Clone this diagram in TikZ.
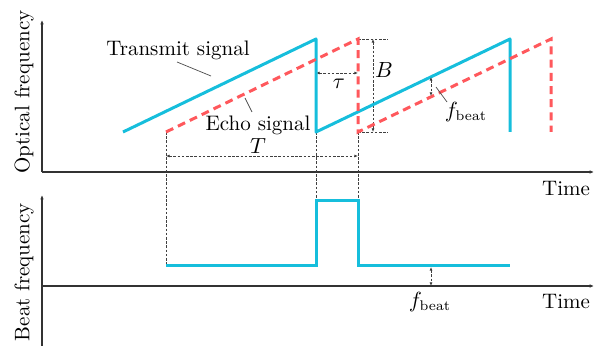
\documentclass[tikz,border=0pt]{standalone}
\usetikzlibrary{arrows.meta}
\definecolor{txc}{RGB}{22,190,220}
\definecolor{rxc}{RGB}{255,88,92}
\begin{document}
\begin{tikzpicture}[x=0.5pt,y=-0.5pt,
  every node/.style={font=\fontsize{10.5}{12}\selectfont, inner sep=0pt},
  axis/.style={line width=0.55pt, draw=black!80, -{Latex[length=2.2pt,width=1.8pt]}},
  tx/.style={line width=1.5pt, draw=txc, line join=round},
  rx/.style={line width=1.5pt, draw=rxc, dash pattern=on 4pt off 2.6pt},
  guide/.style={line width=0.35pt, draw=black!75, dash pattern=on 1.3pt off 0.8pt},
  dim/.style={guide, {Latex[length=1.8pt,width=1.5pt]}-{Latex[length=1.8pt,width=1.5pt]}},
  leader/.style={line width=0.35pt, draw=black!70}]
\useasboundingbox (0,0) rectangle (598,346);
% axes
\coordinate (o1) at (42,172); \coordinate (y1) at (42,20); \coordinate (x1) at (594,172);
\coordinate (o2) at (42,346); \coordinate (y2) at (42,195); \coordinate (x2) at (594,286);
\coordinate (o2h) at (42,286);
\draw[axis] (o1) -- (y1);
\draw[axis] (o1) -- (x1);
\draw[axis] (o2) -- (y2);
\draw[axis] (o2h) -- (x2);
\node[rotate=90] (ylab1) at (24,92) {Optical frequency};
\node[rotate=90] (ylab2) at (24,272) {Beat frequency};
\node (xlab1) at (566,189) {Time};
\node (xlab2) at (566,302) {Time};
% transmit
\coordinate (t0) at (123,132); \coordinate (t1) at (316,39); \coordinate (t2) at (316,132);
\coordinate (t3) at (510,39); \coordinate (t4) at (510,132);
% echo
\coordinate (r0) at (166,132); \coordinate (r1) at (358,39); \coordinate (r2) at (358,132);
\coordinate (r3) at (551,39); \coordinate (r4) at (551,132);
% guides
\coordinate (g0) at (166,266); \coordinate (g1) at (316,201); \coordinate (g2) at (358,201);
\draw[guide] (r0) -- (g0);
\draw[guide] (t2) -- (g1);
\draw[guide] (r2) -- (g2);
\coordinate (bt) at (388,39); \coordinate (bb) at (388,132);
\draw[guide] (r1) -- (bt);
\draw[guide] (r2) -- (bb);
\coordinate (ba) at (373,39); \coordinate (bz) at (373,132);
\draw[dim] (ba) -- (bz);
\node (B) at (384,70) {$B$};
\coordinate (ta) at (316,73); \coordinate (tb) at (358,73);
\draw[dim] (ta) -- (tb);
\node (tau) at (339,84) {$\tau$};
\coordinate (Ta) at (166,156); \coordinate (Tb) at (358,156);
\draw[dim] (Ta) -- (Tb);
\node (T) at (258,146) {$T$};
% signals
\draw[tx] (t0) -- (t1) -- (t2) -- (t3) -- (t4);
\draw[rx] (r0) -- (r1) -- (r2) -- (r3) -- (r4);
% beat
\coordinate (p0) at (166,266); \coordinate (p1) at (316,266); \coordinate (p2) at (316,201);
\coordinate (p3) at (358,201); \coordinate (p4) at (358,266); \coordinate (p5) at (510,266);
\draw[tx, line join=miter] (p0) -- (p1) -- (p2) -- (p3) -- (p4) -- (p5);
% fbeat markers
\coordinate (fa) at (431,77); \coordinate (fb) at (431,96);
\draw[dim] (fa) -- (fb);
\node (fb1) at (466,112) {$f_{\mathrm{beat}}$};
\coordinate (la) at (436,87); \coordinate (lb) at (447,102);
\draw[leader] (la) -- (lb);
\coordinate (fc) at (431,267); \coordinate (fd) at (431,286);
\draw[dim] (fc) -- (fd);
\node (fb2) at (430,302) {$f_{\mathrm{beat}}$};
% labels
\node (txl) at (178,50) {Transmit signal};
\coordinate (l1a) at (177,62); \coordinate (l1b) at (211,76);
\draw[leader] (l1a) -- (l1b);
\node (rxl) at (258,125) {Echo signal};
\coordinate (l2a) at (245,98); \coordinate (l2b) at (252,112);
\draw[leader] (l2a) -- (l2b);
\end{tikzpicture}
\end{document}
